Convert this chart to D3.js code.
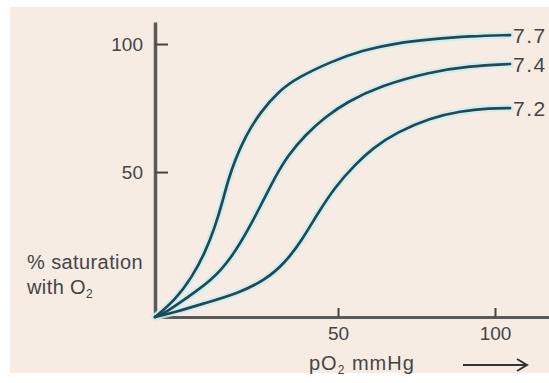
<!DOCTYPE html>
<html>
<head>
<meta charset="utf-8">
<script src="https://cdn.jsdelivr.net/npm/d3@7"></script>
<style>
  html, body { margin: 0; padding: 0; background: #ffffff; }
  svg { display: block; }
  text { font-family: "Liberation Sans", Arial, Helvetica, sans-serif; fill: #454545; }
</style>
</head>
<body>
<svg id="chart" width="549" height="383"></svg>
<script>
// ---- data ----
const xDomain = [-8.3, 117.2];   // pO2 mmHg at axis ends
const yDomain = [-6.6, 108.6];   // % saturation at axis ends
const xTicks = [50, 100];
const yTicks = [50, 100];
const seriesNames = ["7.7", "7.4", "7.2"];
const curve77 = [[-8.3,-6.6],[-1.9,0.0],[3.5,9.0],[7.6,18.4],[10.8,28.5],[13.1,37.9],[15.0,46.9],[17.2,54.7],[20.4,63.7],[25.2,73.4],[31.5,82.0],[36.9,86.7],[47.5,93.0],[58.0,97.7],[68.8,100.4],[79.3,101.8],[92.0,103.1],[104.8,103.5]];
const curve74 = [[-8.3,-6.6],[-5.1,-5.1],[2.2,1.2],[9.9,7.8],[16.2,16.8],[21.3,27.3],[25.8,37.9],[29.9,48.0],[34.1,56.6],[39.5,64.4],[45.9,71.5],[52.9,77.4],[63.4,83.6],[79.3,89.1],[92.0,91.4],[104.8,92.2]];
const curve72 = [[-8.3,-6.6],[-1.9,-4.7],[7.6,-1.2],[18.2,2.7],[26.8,7.8],[33.1,14.5],[38.5,23.4],[43.6,34.0],[49.0,44.1],[55.4,52.9],[61.1,59.4],[68.8,65.6],[79.3,71.1],[88.9,73.8],[98.4,75.0],[104.8,75.0]];
const seriesValues = [curve77, curve74, curve72];

// ---- drawing ----
const svg = d3.select("#chart");
svg.append("rect").attr("x", 10).attr("y", 7).attr("width", 539).attr("height", 366).attr("fill", "#f6ece3");

const x = d3.scaleLinear().domain(xDomain).range([155, 549]);
const y = d3.scaleLinear().domain(yDomain).range([317, 22]);

const axisColor = "#5a5a5a";
const font = "Liberation Sans, Arial, sans-serif";

// y axis
const gy = svg.append("g").attr("transform", `translate(${x(xDomain[0])},0)`)
  .call(d3.axisLeft(y).tickValues(yTicks).tickSizeInner(-13).tickSizeOuter(0).tickPadding(12));
gy.select(".domain").attr("stroke", axisColor).attr("stroke-width", 3.5);
gy.selectAll(".tick line").attr("stroke", "#444").attr("stroke-width", 2);
gy.selectAll(".tick text").attr("font-size", 19).attr("fill", "#454545").attr("font-family", font);

// x axis
const gx = svg.append("g").attr("transform", `translate(0,${y(yDomain[0])})`)
  .call(d3.axisBottom(x).tickValues(xTicks).tickSizeInner(-9).tickSizeOuter(0).tickPadding(10));
gx.select(".domain").attr("stroke", axisColor).attr("stroke-width", 3);
gx.selectAll(".tick line").attr("stroke", "#444").attr("stroke-width", 2);
gx.selectAll(".tick text").attr("font-size", 19).attr("fill", "#454545").attr("font-family", font);

// curves
const line = d3.line().x(d => x(d[0])).y(d => y(d[1])).curve(d3.curveBasis);
const gc = svg.append("g");
seriesValues.forEach(s => {
  gc.append("path").attr("d", line(s)).attr("fill", "none")
    .attr("stroke", "#c9eef0").attr("stroke-width", 7).attr("stroke-opacity", 0.8)
    .attr("stroke-linecap", "round");
});
seriesValues.forEach(s => {
  gc.append("path").attr("d", line(s)).attr("fill", "none")
    .attr("stroke", "#1d4a56").attr("stroke-width", 2.7)
    .attr("stroke-linecap", "round");
});

// end labels
seriesValues.forEach((s, i) => {
  const last = s[s.length - 1];
  svg.append("text").attr("x", x(last[0]) + 3).attr("y", y(last[1]))
    .attr("dy", "0.36em").attr("font-size", 21).attr("letter-spacing", 1.5).text(seriesNames[i]);
});

// y axis title
const yt = svg.append("text").attr("x", 27).attr("y", 269).attr("font-size", 20).attr("letter-spacing", 0.4);
yt.append("tspan").text("% saturation");
const yt2 = svg.append("text").attr("x", 27).attr("y", 294).attr("font-size", 20).attr("letter-spacing", 0.4);
yt2.append("tspan").text("with O");
yt2.append("tspan").attr("font-size", 12).attr("dy", 4).text("2");

// x axis title
const xt = svg.append("text").attr("x", 309).attr("y", 370).attr("font-size", 20).attr("letter-spacing", 1);
xt.append("tspan").text("pO");
xt.append("tspan").attr("font-size", 12).attr("dy", 4).text("2");
xt.append("tspan").attr("dy", -4).text(" mmHg");

// arrow
svg.append("path").attr("d", "M463,365 L526,365 M517,359 L527,365 L517,371")
  .attr("fill", "none").attr("stroke", "#333").attr("stroke-width", 2);
</script>
</body>
</html>
